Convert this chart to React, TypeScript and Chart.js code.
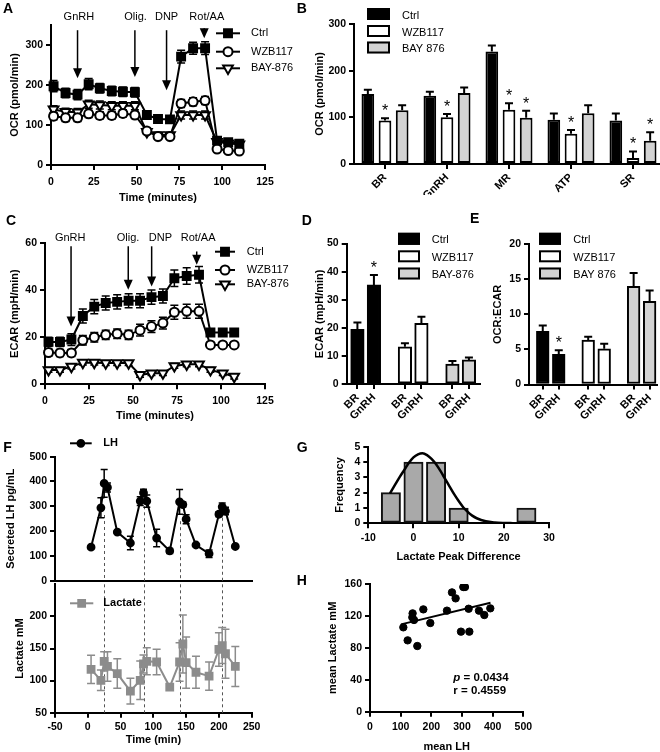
import React, { useEffect, useRef } from 'react';
import { Chart, registerables } from 'chart.js';

Chart.register(...registerables);

const FONT = '"Liberation Sans", Arial, Helvetica, sans-serif';
Chart.defaults.font.family = FONT;
Chart.defaults.color = '#000';

// ---------------- Panel A: OCR time course ----------------
const A_TIME = [1.5, 8.5, 15.5, 22, 28.5, 35.5, 42, 49, 56, 62.5, 69.5, 76, 83, 90, 97, 103.5, 110];
const A_CTRL = [197, 180, 176, 202, 192, 185, 183, 182, 125, 115, 114, 271, 292, 292, 61, 57, 53];
const A_CTRL_ERR = [14, 12, 13, 14, 12, 12, 12, 12, 8, 7, 7, 16, 15, 16, 6, 5, 5];
const A_WZB = [122, 118, 118, 128, 124, 124, 129, 125, 85, 71, 71, 154, 158, 161, 40, 36, 35];
const A_WZB_ERR = [9, 9, 9, 9, 9, 9, 9, 9, 6, 6, 6, 10, 10, 10, 4, 4, 4];
const A_BAY = [139, 133, 132, 152, 150, 148, 148, 148, 83, 75, 75, 125, 125, 125, 58, 54, 52];
const A_BAY_ERR = [9, 9, 9, 10, 10, 10, 10, 10, 6, 6, 6, 10, 10, 10, 5, 5, 5];
const A_X_TICKS = [0, 25, 50, 75, 100, 125];
const A_Y_TICKS = [0, 100, 200, 300];
const A_INJ_LABELS = ['GnRH', 'Olig.', 'DNP', 'Rot/AA'];
const A_INJ_TIME = [15.5, 49, 67.5, 89.5];
const A_INJ_FROM = [337, 337, 337, 342];
const A_INJ_TO = [217, 220, 187, 317];
const A_INJ_LABEL_TIME = [16.3, 49.4, 67.5, 91];
const A_INJ_LABEL_Y = 371;

// ---------------- Panel B: OCR parameters ----------------
const B_CATEGORIES = ['BR', 'GnRH', 'MR', 'ATP', 'SR'];
const B_CTRL = [150, 146, 241, 95, 93];
const B_CTRL_ERR = [9, 9, 13, 13, 15];
const B_WZB = [93, 100, 116, 65, 13];
const B_WZB_ERR = [5, 7, 14, 8, 14];
const B_BAY = [115, 152, 99, 109, 50];
const B_BAY_ERR = [11, 12, 15, 17, 18];
const B_WZB_SIG = [true, true, true, true, true];
const B_BAY_SIG = [false, false, true, false, true];
const B_Y_TICKS = [0, 100, 200, 300];

// ---------------- Panel C: ECAR time course ----------------
const C_TIME = [2, 8.5, 15, 21.5, 28, 34.5, 41, 47.5, 54, 60.5, 67, 73.5, 80.5, 87.5, 94, 101, 107.5];
const C_CTRL = [18, 18, 19, 29, 33, 34.5, 35, 35.5, 35.5, 37, 37.5, 45, 46, 46.5, 22, 22, 22];
const C_CTRL_ERR = [2, 2, 2.5, 3, 3, 3, 3, 3, 3, 3, 3, 3.5, 3.5, 3.5, 1.5, 1.5, 1.5];
const C_WZB = [13.5, 13.3, 13.3, 18.7, 20, 21, 21.5, 21, 23, 24.5, 26, 30.6, 31, 31, 16.7, 16.7, 16.7];
const C_WZB_ERR = [1.5, 1.5, 1.5, 2, 2, 2, 2, 2, 2.5, 2.5, 2.5, 3, 3, 3, 1, 1, 1];
const C_BAY = [6.1, 6.1, 7.5, 9.2, 9.2, 9, 9, 9, 4, 4.7, 4.7, 7.8, 8.5, 8.5, 6.1, 4.7, 3.3];
const C_BAY_ERR = [1, 1, 1, 1, 1, 1, 1, 1, 1, 1, 1, 1, 1, 1, 1, 1, 1];
const C_X_TICKS = [0, 25, 50, 75, 100, 125];
const C_Y_TICKS = [0, 20, 40, 60];
const C_INJ_LABELS = ['GnRH', 'Olig.', 'DNP', 'Rot/AA'];
const C_INJ_TIME = [14.8, 47.3, 60.6, 86.2];
const C_INJ_FROM = [58.6, 58.6, 58.6, 56.4];
const C_INJ_TO = [24.5, 40.1, 41.5, 50.8];
const C_INJ_LABEL_TIME = [14.3, 47.2, 65.6, 87];
const C_INJ_LABEL_Y = 62.3;

// ---------------- Panels D / E ----------------
const DE_CONDITIONS = ['BR', 'GnRH'];
const D_CTRL = [19.5, 35.3];
const D_CTRL_ERR = [2.4, 3.5];
const D_CTRL_SIG = [false, true];
const D_WZB = [13.3, 21.6];
const D_WZB_ERR = [1.2, 2.4];
const D_BAY = [7.1, 8.6];
const D_BAY_ERR = [1.1, 0.9];
const D_Y_TICKS = [0, 10, 20, 30, 40, 50];

const E_CTRL = [7.6, 4.3];
const E_CTRL_ERR = [0.8, 0.6];
const E_CTRL_SIG = [false, true];
const E_WZB = [6.35, 5.1];
const E_WZB_ERR = [0.45, 0.7];
const E_BAY = [14.0, 11.85];
const E_BAY_ERR = [1.9, 1.55];
const E_Y_TICKS = [0, 5, 10, 15, 20];

// ---------------- Panel F: LH and lactate pulses ----------------
const F_TIME = [5, 20, 25, 30, 45, 65, 80, 85, 90, 105, 125, 140, 145, 150, 165, 185, 200, 205, 210, 225];
const F_LH = [135, 294, 392, 376, 196, 152, 321, 354, 321, 172, 120, 318, 307, 248, 144, 109, 268, 298, 281, 138];
const F_LH_ERR = [5, 40, 56, 18, 5, 27, 18, 15, 25, 35, 10, 50, 10, 18, 5, 15, 10, 15, 15, 5];
const F_LACTATE = [117.5, 100.5, 130, 122, 111, 83.5, 100.5, 126, 130, 129, 90, 129, 157, 128, 113, 107, 148.5, 154.6, 141.8, 122];
const F_LACTATE_ERR = [22, 16, 15, 23, 23, 20, 30, 14, 21, 20, 0, 30, 45, 40, 25, 22, 26, 28, 38, 31];
const F_PEAK_TIME = [25, 85, 140, 205];
const F_PEAK_LINE_FROM = [265, 300, 240, 278];
const F_X_TICKS = [-50, 0, 50, 100, 150, 200, 250];
const F_LH_TICKS = [0, 100, 200, 300, 400, 500];
const F_LACTATE_TICKS = [50, 100, 150, 200];

// ---------------- Panel G: histogram ----------------
const G_BIN_CENTER = [-5, 0, 5, 10, 15, 20, 25];
const G_FREQUENCY = [2, 4, 4, 1, 0, 0, 1];
const G_FIT_X = [-5.2, -4, -3, -2, -1, 0, 1, 2, 3, 4, 5, 6, 7, 8, 9, 10, 11, 12, 13, 14, 16, 18, 20, 22, 25];
const G_FIT_Y = [1.95, 2.55, 3.05, 3.5, 3.95, 4.3, 4.5, 4.57, 4.45, 4.2, 3.85, 3.4, 2.9, 2.4, 1.9, 1.45, 1.05, 0.75, 0.5, 0.33, 0.13, 0.05, 0.02, 0.01, 0];
const G_X_TICKS = [-10, 0, 10, 20, 30];
const G_Y_TICKS = [0, 1, 2, 3, 4, 5];

// ---------------- Panel H: correlation ----------------
const H_MEAN_LH = [108.7, 122.8, 139, 138, 143.5, 154.3, 174, 196.7, 251, 267.4, 279.3, 296.7, 304.3, 309.8, 321.7, 324, 355.4, 372.8, 392.4];
const H_MEAN_LACTATE = [105.7, 89.4, 123.2, 118.2, 114.9, 82.3, 128.2, 111.1, 126.6, 149.5, 142, 100.3, 156.2, 156.2, 129, 100.3, 126.6, 121.1, 129.5];
const H_FIT_X = [101, 393];
const H_FIT_Y = [109.4, 136.6];
const H_X_TICKS = [0, 100, 200, 300, 400, 500];
const H_Y_TICKS = [0, 40, 80, 120, 160];
const H_P_TEXT = ' = 0.0434';
const H_R_TEXT = 'r = 0.4559';

// ================= helpers =================
type Rect = { x: number; y: number; w: number; h: number };
type Area = { l: number; t: number; r: number; b: number };

const TICK_SIZE = 10.5;
const TITLE_SIZE = 11;
const TICK_FONT = { family: FONT, size: TICK_SIZE, weight: 'bold' };
const CAT_FONT = { family: FONT, size: 11, weight: 'bold' };
const TITLE_FONT = { family: FONT, size: TITLE_SIZE, weight: 'bold' };

function gridCfg(showTicks = true) {
  return {
    display: true,
    drawOnChartArea: false,
    drawTicks: showTicks,
    tickLength: 5,
    tickWidth: 2,
    tickColor: '#000',
    color: '#000',
    lineWidth: 2,
    offset: false,
  };
}
const BORDER = { display: true, color: '#000', width: 2 };

function yAxis(rect: Rect, area: Area, o: any) {
  const lh = TITLE_SIZE * 1.2;
  return {
    type: 'linear',
    position: 'left',
    min: o.min,
    max: o.max,
    grid: gridCfg(),
    border: BORDER,
    ticks: { font: TICK_FONT, color: '#000', padding: 3, autoSkip: false },
    afterBuildTicks: (s: any) => {
      s.ticks = o.ticks.map((v: number) => ({ value: v }));
    },
    title: o.title
      ? {
          display: true,
          text: o.title,
          color: '#000',
          font: TITLE_FONT,
          padding: { top: Math.max(0, o.titleAt - rect.x - lh / 2), bottom: 0 },
        }
      : { display: false },
    afterFit: (s: any) => {
      s.width = area.l - rect.x;
    },
  };
}

function xLinear(rect: Rect, area: Area, o: any) {
  const lh = TITLE_SIZE * 1.2;
  const ticks: any = {
    display: o.hideTicks ? false : true,
    font: o.font || TICK_FONT,
    color: '#000',
    padding: o.pad ?? 4,
    autoSkip: false,
    maxRotation: o.rot ?? 0,
    minRotation: o.rot ?? 0,
  };
  if (o.callback) ticks.callback = o.callback;
  return {
    type: 'linear',
    position: 'bottom',
    min: o.min,
    max: o.max,
    offset: false,
    grid: gridCfg(!o.hideTicks),
    border: BORDER,
    ticks,
    afterBuildTicks: (s: any) => {
      s.ticks = o.ticks.map((v: number) => ({ value: v }));
    },
    title: o.title
      ? {
          display: true,
          text: o.title,
          color: '#000',
          font: o.titleFont || TITLE_FONT,
          padding: { top: 0, bottom: Math.max(0, rect.y + rect.h - o.titleAt - lh / 2) },
        }
      : { display: false },
    afterFit: (s: any) => {
      s.height = rect.y + rect.h - area.b;
    },
  };
}

function baseOptions(rect: Rect, area: Area) {
  return {
    responsive: false,
    maintainAspectRatio: false,
    animation: false,
    devicePixelRatio: 1,
    events: [],
    layout: { padding: { left: 0, bottom: 0, top: area.t - rect.y, right: rect.x + rect.w - area.r } },
    plugins: { legend: { display: false }, tooltip: { enabled: false }, title: { display: false } },
  };
}

function drawMarker(ctx: CanvasRenderingContext2D, style: string, x: number, y: number, r: number, fill: string, stroke: string) {
  ctx.beginPath();
  if (style === 'rect') {
    const s = r * Math.SQRT2;
    ctx.rect(x - s / 2, y - s / 2, s, s);
  } else if (style === 'circle') {
    ctx.arc(x, y, r, 0, Math.PI * 2);
  } else {
    ctx.moveTo(x - r * 0.866, y - r * 0.5);
    ctx.lineTo(x + r * 0.866, y - r * 0.5);
    ctx.lineTo(x, y + r);
    ctx.closePath();
  }
  ctx.fillStyle = fill;
  ctx.fill();
  ctx.lineWidth = 2;
  ctx.strokeStyle = stroke;
  ctx.stroke();
}

function overlay(rect: Rect, draw: (ctx: CanvasRenderingContext2D, chart: any) => void) {
  return {
    id: 'pageOverlay',
    afterDraw(chart: any) {
      const ctx = chart.ctx;
      ctx.save();
      ctx.translate(-rect.x, -rect.y);
      draw(ctx, chart);
      ctx.restore();
    },
  };
}

function drawLineLegend(ctx: CanvasRenderingContext2D, items: any[], x1: number, x2: number, textX: number, rows: number[], font: string) {
  items.forEach((it, i) => {
    const y = rows[i];
    const c = it.color || '#000';
    ctx.save();
    ctx.strokeStyle = c;
    ctx.lineWidth = 2;
    ctx.beginPath();
    ctx.moveTo(x1, y);
    ctx.lineTo(x2, y);
    ctx.stroke();
    drawMarker(ctx, it.style, (x1 + x2) / 2, y, it.r, it.fill, c);
    ctx.fillStyle = '#000';
    ctx.font = font;
    ctx.textAlign = 'left';
    ctx.textBaseline = 'middle';
    ctx.fillText(it.label, textX, y);
    ctx.restore();
  });
}

function drawBoxLegend(ctx: CanvasRenderingContext2D, items: any[], boxX: number, boxW: number, boxH: number, rows: number[], textX: number) {
  items.forEach((it, i) => {
    const y = rows[i];
    ctx.save();
    ctx.fillStyle = it.fill;
    ctx.fillRect(boxX, y - boxH / 2, boxW, boxH);
    ctx.strokeStyle = '#000';
    ctx.lineWidth = 2;
    ctx.strokeRect(boxX + 1, y - boxH / 2 + 1, boxW - 2, boxH - 2);
    ctx.fillStyle = '#000';
    ctx.font = `11px ${FONT}`;
    ctx.textAlign = 'left';
    ctx.textBaseline = 'middle';
    ctx.fillText(it.label, textX, y + 1.5);
    ctx.restore();
  });
}

const errorBarPlugin = {
  id: 'errorBars',
  beforeDatasetsDraw(chart: any) {
    const ctx = chart.ctx;
    chart.data.datasets.forEach((ds: any, i: number) => {
      if (!ds.err) return;
      const meta = chart.getDatasetMeta(i);
      const ys = chart.scales[meta.yAxisID];
      ctx.save();
      ctx.strokeStyle = ds.errColor || '#000';
      ctx.lineWidth = ds.errWidth || 1.5;
      meta.data.forEach((el: any, j: number) => {
        const e = ds.err[j];
        if (!e) return;
        const raw = ds.data[j];
        const v = typeof raw === 'number' ? raw : raw.y;
        const x = el.x;
        const top = ys.getPixelForValue(v + e);
        const bot = ds.errUpOnly ? ys.getPixelForValue(v) : ys.getPixelForValue(v - e);
        const c = ds.errCap ?? 4;
        ctx.beginPath();
        ctx.moveTo(x, top);
        ctx.lineTo(x, bot);
        ctx.moveTo(x - c, top);
        ctx.lineTo(x + c, top);
        if (!ds.errUpOnly) {
          ctx.moveTo(x - c, bot);
          ctx.lineTo(x + c, bot);
        }
        ctx.stroke();
      });
      ctx.restore();
    });
  },
  afterDatasetsDraw(chart: any) {
    const ctx = chart.ctx;
    chart.data.datasets.forEach((ds: any, i: number) => {
      if (!ds.sig) return;
      const meta = chart.getDatasetMeta(i);
      const ys = chart.scales[meta.yAxisID];
      ctx.save();
      ctx.fillStyle = '#000';
      ctx.font = `16px ${FONT}`;
      ctx.textAlign = 'center';
      ctx.textBaseline = 'alphabetic';
      meta.data.forEach((el: any, j: number) => {
        if (!ds.sig[j]) return;
        const raw = ds.data[j];
        const v = typeof raw === 'number' ? raw : raw.y;
        const top = ys.getPixelForValue(v + (ds.err ? ds.err[j] : 0));
        ctx.fillText('*', el.x, top - 2);
      });
      ctx.restore();
    });
  },
};

function arrowsPlugin(times: number[], from: number[], to: number[], labels: string[], labelTimes: number[], labelY: number) {
  return {
    id: 'injections',
    afterDatasetsDraw(chart: any) {
      const { ctx } = chart;
      const xs = chart.scales.x;
      const ys = chart.scales.y;
      ctx.save();
      ctx.strokeStyle = '#000';
      ctx.fillStyle = '#000';
      ctx.lineWidth = 1.5;
      times.forEach((t, i) => {
        const px = xs.getPixelForValue(t);
        const y1 = ys.getPixelForValue(from[i]);
        const y2 = ys.getPixelForValue(to[i]);
        ctx.beginPath();
        ctx.moveTo(px, y1);
        ctx.lineTo(px, y2 - 6);
        ctx.stroke();
        ctx.beginPath();
        ctx.moveTo(px - 4.5, y2 - 10);
        ctx.lineTo(px + 4.5, y2 - 10);
        ctx.lineTo(px, y2);
        ctx.closePath();
        ctx.fill();
      });
      ctx.font = `11px ${FONT}`;
      ctx.textAlign = 'center';
      ctx.textBaseline = 'middle';
      labels.forEach((lab, i) => {
        ctx.fillText(lab, xs.getPixelForValue(labelTimes[i]), ys.getPixelForValue(labelY));
      });
      ctx.restore();
    },
  };
}

function lineDs(xs: number[], s: any) {
  const c = s.color || '#000';
  return {
    label: s.label,
    data: xs.map((x, i) => ({ x, y: s.ys[i] })),
    err: s.err,
    errCap: s.cap ?? 4,
    errWidth: s.errWidth ?? 1.5,
    errColor: c,
    borderColor: c,
    borderWidth: 2,
    pointStyle: s.style,
    pointRadius: s.r,
    pointRotation: s.style === 'triangle' ? 180 : 0,
    pointBackgroundColor: s.fill,
    pointBorderColor: c,
    pointBorderWidth: 2,
    tension: 0,
    fill: false,
    clip: false,
  };
}

// ================= Panel builders =================
const A_RECT: Rect = { x: 0, y: 0, w: 300, h: 205 };
const A_AREA: Area = { l: 51, t: 25, r: 265, b: 165 };
function buildA() {
  const series = [
    { label: 'Ctrl', ys: A_CTRL, err: A_CTRL_ERR, style: 'rect', r: 5.6, fill: '#000' },
    { label: 'WZB117', ys: A_WZB, err: A_WZB_ERR, style: 'circle', r: 4.5, fill: '#fff' },
    { label: 'BAY-876', ys: A_BAY, err: A_BAY_ERR, style: 'triangle', r: 5.6, fill: '#fff' },
  ];
  return {
    type: 'line',
    data: { datasets: series.map((s) => lineDs(A_TIME, s)) },
    options: {
      ...baseOptions(A_RECT, A_AREA),
      scales: {
        x: xLinear(A_RECT, A_AREA, { min: 0, max: 125, ticks: A_X_TICKS, title: 'Time (minutes)', titleAt: 198, pad: 6 }),
        y: yAxis(A_RECT, A_AREA, { min: 0, max: 350, ticks: A_Y_TICKS, title: 'OCR (pmol/min)', titleAt: 15 }),
      },
    },
    plugins: [
      errorBarPlugin,
      arrowsPlugin(A_INJ_TIME, A_INJ_FROM, A_INJ_TO, A_INJ_LABELS, A_INJ_LABEL_TIME, A_INJ_LABEL_Y),
      overlay(A_RECT, (ctx) => drawLineLegend(ctx, series, 216, 240, 251, [33.3, 51.7, 68.3], `11px ${FONT}`)),
    ],
  };
}

const B_RECT: Rect = { x: 305, y: 0, w: 365, h: 195 };
const B_AREA: Area = { l: 354, t: 24, r: 664, b: 164 };
function buildB() {
  const bar = (label: string, vals: number[], err: number[], fill: string, sig?: boolean[]) => ({
    label,
    data: vals,
    err,
    sig,
    errUpOnly: true,
    errWidth: 2,
    errCap: 4,
    backgroundColor: fill,
    borderColor: '#000',
    borderWidth: 2,
    borderSkipped: false,
    categoryPercentage: 0.83,
    barPercentage: 0.74,
  });
  const legend = [
    { label: 'Ctrl', fill: '#000' },
    { label: 'WZB117', fill: '#fff' },
    { label: 'BAY 876', fill: '#d3d3d3' },
  ];
  return {
    type: 'bar',
    data: {
      labels: B_CATEGORIES,
      datasets: [
        bar('Ctrl', B_CTRL, B_CTRL_ERR, '#000'),
        bar('WZB117', B_WZB, B_WZB_ERR, '#fff', B_WZB_SIG),
        bar('BAY 876', B_BAY, B_BAY_ERR, '#d3d3d3', B_BAY_SIG),
      ],
    },
    options: {
      ...baseOptions(B_RECT, B_AREA),
      scales: {
        x: {
          type: 'category',
          position: 'bottom',
          offset: true,
          grid: gridCfg(),
          border: BORDER,
          ticks: { font: CAT_FONT, color: '#000', padding: 2, minRotation: 45, maxRotation: 45, autoSkip: false },
          afterFit: (s: any) => {
            s.height = B_RECT.y + B_RECT.h - B_AREA.b;
          },
        },
        y: yAxis(B_RECT, B_AREA, { min: 0, max: 300, ticks: B_Y_TICKS, title: 'OCR (pmol/min)', titleAt: 320 }),
      },
    },
    plugins: [errorBarPlugin, overlay(B_RECT, (ctx) => drawBoxLegend(ctx, legend, 367, 23, 12, [14, 31, 47.5], 402))],
  };
}

const C_RECT: Rect = { x: 0, y: 205, w: 300, h: 225 };
const C_AREA: Area = { l: 45, t: 243, r: 265, b: 384.3 };
function buildC() {
  const series = [
    { label: 'Ctrl', ys: C_CTRL, err: C_CTRL_ERR, style: 'rect', r: 5.6, fill: '#000' },
    { label: 'WZB117', ys: C_WZB, err: C_WZB_ERR, style: 'circle', r: 4.5, fill: '#fff' },
    { label: 'BAY-876', ys: C_BAY, err: C_BAY_ERR, style: 'triangle', r: 5.6, fill: '#fff' },
  ];
  return {
    type: 'line',
    data: { datasets: series.map((s) => lineDs(C_TIME, s)) },
    options: {
      ...baseOptions(C_RECT, C_AREA),
      scales: {
        x: xLinear(C_RECT, C_AREA, { min: 0, max: 125, ticks: C_X_TICKS, title: 'Time (minutes)', titleAt: 416, pad: 6 }),
        y: yAxis(C_RECT, C_AREA, { min: 0, max: 60, ticks: C_Y_TICKS, title: 'ECAR (mpH/min)', titleAt: 15 }),
      },
    },
    plugins: [
      errorBarPlugin,
      arrowsPlugin(C_INJ_TIME, C_INJ_FROM, C_INJ_TO, C_INJ_LABELS, C_INJ_LABEL_TIME, C_INJ_LABEL_Y),
      overlay(C_RECT, (ctx) => drawLineLegend(ctx, series, 215, 235, 246.7, [251.7, 270, 284.3], `11px ${FONT}`)),
    ],
  };
}

function buildPairs(
  rect: Rect,
  area: Area,
  groups: any[],
  start: number,
  step: number,
  axisMax: number,
  barW: number,
  yOpts: any,
  legendItems: any[],
  legendBoxX: number,
  legendTextX: number,
) {
  const positions: number[] = [];
  groups.forEach((_g, gi) => DE_CONDITIONS.forEach((_c, j) => positions.push(start + gi * step + j)));
  return {
    type: 'bar',
    data: {
      datasets: groups.map((g, gi) => ({
        label: g.label,
        data: g.vals.map((v: number, j: number) => ({ x: positions[gi * 2 + j], y: v })),
        err: g.err,
        sig: g.sig,
        errUpOnly: true,
        errWidth: 2,
        errCap: 4,
        backgroundColor: g.fill,
        borderColor: '#000',
        borderWidth: 2,
        borderSkipped: false,
        grouped: false,
        barThickness: barW,
      })),
    },
    options: {
      ...baseOptions(rect, area),
      scales: {
        x: xLinear(rect, area, {
          min: 0,
          max: axisMax,
          ticks: positions,
          rot: 45,
          pad: 2,
          font: CAT_FONT,
          callback: (_v: any, i: number) => DE_CONDITIONS[i % 2],
        }),
        y: yAxis(rect, area, yOpts),
      },
    },
    plugins: [errorBarPlugin, overlay(rect, (ctx) => drawBoxLegend(ctx, legendItems, legendBoxX, 22, 12, [238.8, 256.3, 273.5], legendTextX))],
  };
}

const D_RECT: Rect = { x: 305, y: 205, w: 180, h: 215 };
const D_AREA: Area = { l: 346.7, t: 243.6, r: 480.3, b: 384.1 };
function buildD() {
  const groups = [
    { label: 'Ctrl', vals: D_CTRL, err: D_CTRL_ERR, sig: D_CTRL_SIG, fill: '#000' },
    { label: 'WZB117', vals: D_WZB, err: D_WZB_ERR, fill: '#fff' },
    { label: 'BAY-876', vals: D_BAY, err: D_BAY_ERR, fill: '#d3d3d3' },
  ];
  return buildPairs(
    D_RECT,
    D_AREA,
    groups,
    0.65,
    2.88,
    8.1,
    13.5,
    { min: 0, max: 50, ticks: D_Y_TICKS, title: 'ECAR (mpH/min)', titleAt: 320 },
    groups.map((g) => ({ label: g.label, fill: g.fill })),
    398,
    431.7,
  );
}

const E_RECT: Rect = { x: 485, y: 205, w: 185, h: 215 };
const E_AREA: Area = { l: 529, t: 244.3, r: 657, b: 384.5 };
function buildE() {
  const groups = [
    { label: 'Ctrl', vals: E_CTRL, err: E_CTRL_ERR, sig: E_CTRL_SIG, fill: '#000' },
    { label: 'WZB117', vals: E_WZB, err: E_WZB_ERR, fill: '#fff' },
    { label: 'BAY 876', vals: E_BAY, err: E_BAY_ERR, fill: '#d3d3d3' },
  ];
  return buildPairs(
    E_RECT,
    E_AREA,
    groups,
    0.86,
    2.84,
    8,
    12.7,
    { min: 0, max: 20, ticks: E_Y_TICKS, title: 'OCR:ECAR', titleAt: 498.3 },
    groups.map((g) => ({ label: g.label, fill: g.fill })),
    539,
    573.3,
  );
}

function dashedPeaks(fromVals: number[] | null) {
  return {
    id: 'peaks',
    beforeDatasetsDraw(chart: any) {
      const { ctx, chartArea } = chart;
      const xs = chart.scales.x;
      const ys = chart.scales.y;
      ctx.save();
      ctx.strokeStyle = '#555';
      ctx.lineWidth = 1;
      ctx.setLineDash([3, 3]);
      F_PEAK_TIME.forEach((t, i) => {
        const px = Math.round(xs.getPixelForValue(t)) + 0.5;
        const y1 = fromVals ? ys.getPixelForValue(fromVals[i]) : chartArea.top;
        ctx.beginPath();
        ctx.moveTo(px, y1);
        ctx.lineTo(px, chartArea.bottom);
        ctx.stroke();
      });
      ctx.restore();
    },
  };
}

const FT_RECT: Rect = { x: 0, y: 430, w: 300, h: 160 };
const FT_AREA: Area = { l: 55, t: 456.7, r: 251.7, b: 584.5 };
function buildFTop() {
  const s = { label: 'LH', ys: F_LH, err: F_LH_ERR, style: 'circle', r: 3.4, fill: '#000', cap: 3.5 };
  return {
    type: 'line',
    data: { datasets: [lineDs(F_TIME, s)] },
    options: {
      ...baseOptions(FT_RECT, FT_AREA),
      scales: {
        x: xLinear(FT_RECT, FT_AREA, { min: -50, max: 250, ticks: F_X_TICKS, hideTicks: true }),
        y: yAxis(FT_RECT, FT_AREA, { min: 0, max: 500, ticks: F_LH_TICKS, title: 'Secreted LH pg/mL', titleAt: 11 }),
      },
    },
    plugins: [
      dashedPeaks(F_PEAK_LINE_FROM),
      errorBarPlugin,
      overlay(FT_RECT, (ctx) => drawLineLegend(ctx, [s], 70, 91.7, 103.3, [443.3], `bold 11px ${FONT}`)),
    ],
  };
}

const FB_RECT: Rect = { x: 0, y: 575, w: 300, h: 177 };
const FB_AREA: Area = { l: 55, t: 584.3, r: 251.7, b: 712.7 };
function buildFBottom() {
  const s = { label: 'Lactate', ys: F_LACTATE, err: F_LACTATE_ERR, style: 'rect', r: 4.8, fill: '#8c8c8c', color: '#8c8c8c', cap: 4 };
  return {
    type: 'line',
    data: { datasets: [lineDs(F_TIME, s)] },
    options: {
      ...baseOptions(FB_RECT, FB_AREA),
      scales: {
        x: xLinear(FB_RECT, FB_AREA, { min: -50, max: 250, ticks: F_X_TICKS, title: 'Time (min)', titleAt: 740, pad: 3 }),
        y: yAxis(FB_RECT, FB_AREA, { min: 50, max: 250, ticks: F_LACTATE_TICKS, title: 'Lactate mM', titleAt: 20 }),
      },
    },
    plugins: [
      dashedPeaks(null),
      errorBarPlugin,
      overlay(FB_RECT, (ctx) => drawLineLegend(ctx, [s], 70, 93.3, 103.3, [603.3], `bold 11px ${FONT}`)),
    ],
  };
}

const G_RECT: Rect = { x: 330, y: 430, w: 240, h: 135 };
const G_AREA: Area = { l: 368.3, t: 446.7, r: 549, b: 523.3 };
function buildG() {
  return {
    type: 'bar',
    data: {
      datasets: [
        {
          type: 'line',
          label: 'Gaussian fit',
          data: G_FIT_X.map((x, i) => ({ x, y: G_FIT_Y[i] })),
          borderColor: '#000',
          borderWidth: 2.5,
          pointRadius: 0,
          cubicInterpolationMode: 'monotone',
          fill: false,
          order: 0,
        },
        {
          type: 'bar',
          label: 'Frequency',
          data: G_BIN_CENTER.map((x, i) => ({ x, y: G_FREQUENCY[i] })),
          backgroundColor: '#a9a9a9',
          borderColor: '#111',
          borderWidth: 2,
          borderSkipped: false,
          grouped: false,
          barThickness: 19.3,
          order: 1,
        },
      ],
    },
    options: {
      ...baseOptions(G_RECT, G_AREA),
      scales: {
        x: xLinear(G_RECT, G_AREA, { min: -10, max: 30, ticks: G_X_TICKS, title: 'Lactate Peak Difference', titleAt: 556.7, pad: 4 }),
        y: yAxis(G_RECT, G_AREA, { min: 0, max: 5, ticks: G_Y_TICKS, title: 'Frequency', titleAt: 340 }),
      },
    },
    plugins: [],
  };
}

const H_RECT: Rect = { x: 326, y: 565, w: 234, h: 189 };
const H_AREA: Area = { l: 370, t: 584, r: 523.3, b: 711.7 };
function buildH() {
  return {
    type: 'scatter',
    data: {
      datasets: [
        {
          type: 'line',
          label: 'Linear fit',
          data: H_FIT_X.map((x, i) => ({ x, y: H_FIT_Y[i] })),
          borderColor: '#000',
          borderWidth: 2,
          pointRadius: 0,
          fill: false,
          order: 0,
        },
        {
          label: 'Mean values',
          data: H_MEAN_LH.map((x, i) => ({ x, y: H_MEAN_LACTATE[i] })),
          pointRadius: 3.7,
          backgroundColor: '#000',
          borderColor: '#000',
          order: 1,
        },
      ],
    },
    options: {
      ...baseOptions(H_RECT, H_AREA),
      scales: {
        x: xLinear(H_RECT, H_AREA, { min: 0, max: 500, ticks: H_X_TICKS, title: 'mean LH', titleAt: 746.7, pad: 4 }),
        y: yAxis(H_RECT, H_AREA, { min: 0, max: 160, ticks: H_Y_TICKS, title: 'mean Lactate mM', titleAt: 332 }),
      },
    },
    plugins: [
      overlay(H_RECT, (ctx) => {
        ctx.fillStyle = '#000';
        ctx.textAlign = 'left';
        ctx.textBaseline = 'middle';
        ctx.font = `italic bold 11.5px ${FONT}`;
        ctx.fillText('p', 453.3, 677.7);
        const w = ctx.measureText('p').width;
        ctx.font = `bold 11.5px ${FONT}`;
        ctx.fillText(H_P_TEXT, 453.3 + w, 677.7);
        ctx.fillText(H_R_TEXT, 453.3, 691);
      }),
    ],
  };
}

function ChartBox({ rect, build }: { rect: Rect; build: () => any }) {
  const ref = useRef<HTMLCanvasElement | null>(null);
  useEffect(() => {
    if (!ref.current) return;
    const chart = new Chart(ref.current, build());
    return () => chart.destroy();
  }, []);
  return (
    <canvas
      ref={ref}
      width={rect.w}
      height={rect.h}
      style={{ position: 'absolute', left: rect.x, top: rect.y, width: rect.w, height: rect.h }}
    />
  );
}

const PANEL_LETTERS = [
  { letter: 'A', x: 3, base: 13.3 },
  { letter: 'B', x: 296.7, base: 13.3 },
  { letter: 'C', x: 6, base: 225 },
  { letter: 'D', x: 301.7, base: 225 },
  { letter: 'E', x: 470, base: 223.3 },
  { letter: 'F', x: 3.3, base: 451.7 },
  { letter: 'G', x: 296.7, base: 451.7 },
  { letter: 'H', x: 296.7, base: 585 },
];

export default function App() {
  return (
    <div
      style={{
        position: 'absolute',
        left: 0,
        top: 0,
        width: 660,
        height: 752,
        overflow: 'hidden',
        background: '#fff',
        fontFamily: FONT,
      }}
    >
      <ChartBox rect={A_RECT} build={buildA} />
      <ChartBox rect={B_RECT} build={buildB} />
      <ChartBox rect={C_RECT} build={buildC} />
      <ChartBox rect={D_RECT} build={buildD} />
      <ChartBox rect={E_RECT} build={buildE} />
      <ChartBox rect={FT_RECT} build={buildFTop} />
      <ChartBox rect={FB_RECT} build={buildFBottom} />
      <ChartBox rect={G_RECT} build={buildG} />
      <ChartBox rect={H_RECT} build={buildH} />
      {PANEL_LETTERS.map((p) => (
        <div
          key={p.letter}
          style={{
            position: 'absolute',
            left: p.x,
            top: p.base - 11.85,
            font: `bold 14px ${FONT}`,
            lineHeight: '14px',
            color: '#000',
          }}
        >
          {p.letter}
        </div>
      ))}
    </div>
  );
}
